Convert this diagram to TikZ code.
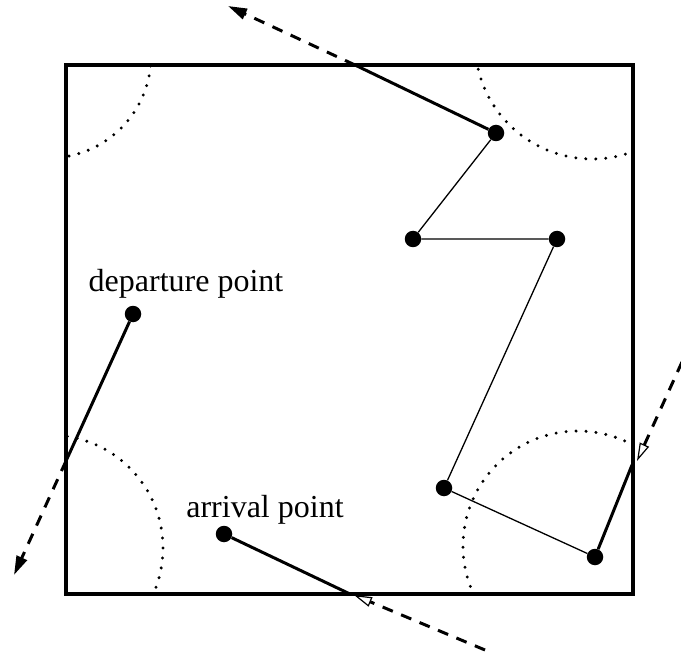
\documentclass[tikz,border=0pt]{standalone}
\usepackage{fontspec}
\setmainfont{Liberation Serif}
\usetikzlibrary{arrows.meta}
\begin{document}
\begin{tikzpicture}[x=1pt,y=-1pt,
  dot/.style={circle,fill=black,inner sep=0pt,minimum size=16.5pt},
  frame/.style={line width=4pt},
  walk/.style={line width=1.3pt},
  jump/.style={line width=3pt},
  ghost/.style={line width=3pt,dash pattern=on 11pt off 9pt},
  outarrow/.style={-{Triangle[length=19pt,width=11pt]}},
  inarrow/.style={-{Triangle[open,length=18pt,width=10pt,line width=1.2pt]}},
  arcdots/.style={line width=3.3pt,dash pattern=on 0pt off 10pt,line cap=round},
  lbl/.style={font=\fontsize{32}{38}\selectfont,inner sep=0pt,anchor=base}]
\useasboundingbox (0,0) rectangle (681,658);
% dotted circles clipped to the box
\begin{scope}
  \clip (66,65) rectangle (633,594);
  \draw[arcdots] (49,56) circle[radius=102];
  \draw[arcdots] (592,42) circle[radius=117];
  \draw[arcdots] (50,548) circle[radius=113];
  \draw[arcdots] (578,546) circle[radius=115];
\end{scope}
% box
\draw[frame] (66,65) rectangle (633,594);
% points
\node[dot] (dep) at (133,314) {};
\node[dot] (arr) at (224,534) {};
\node[dot] (p1) at (496,133) {};
\node[dot] (p2) at (413,239) {};
\node[dot] (p3) at (557,239) {};
\node[dot] (p4) at (444,488) {};
\node[dot] (p5) at (595,557) {};
% labels
\node[lbl] (deplbl) at (186,291) {departure point};
\node[lbl] (arrlbl) at (265,517) {arrival point};
% boundary crossings
\coordinate (exitL) at (66,461);
\coordinate (outL) at (14,575);
\coordinate (entR) at (632,465);
\coordinate (inR) at (637,461);
\coordinate (farR) at (682,362);
\coordinate (exitT) at (355,65);
\coordinate (outT) at (228,6);
\coordinate (entB) at (350,594);
\coordinate (inB) at (354,595);
\coordinate (farB) at (485,650);
% walk
\draw[walk] (p1) -- (p2) -- (p3) -- (p4) -- (p5);
% jumps across the boundary
\draw[jump] (dep) -- (exitL);
\draw[ghost,outarrow] (exitL) -- (outL);
\draw[jump] (entR) -- (p5);
\draw[ghost,inarrow] (farR) -- (inR);
\draw[jump] (p1) -- (exitT);
\draw[ghost,outarrow] (exitT) -- (outT);
\draw[jump] (entB) -- (arr);
\draw[ghost,inarrow] (farB) -- (inB);
\end{tikzpicture}
\end{document}
